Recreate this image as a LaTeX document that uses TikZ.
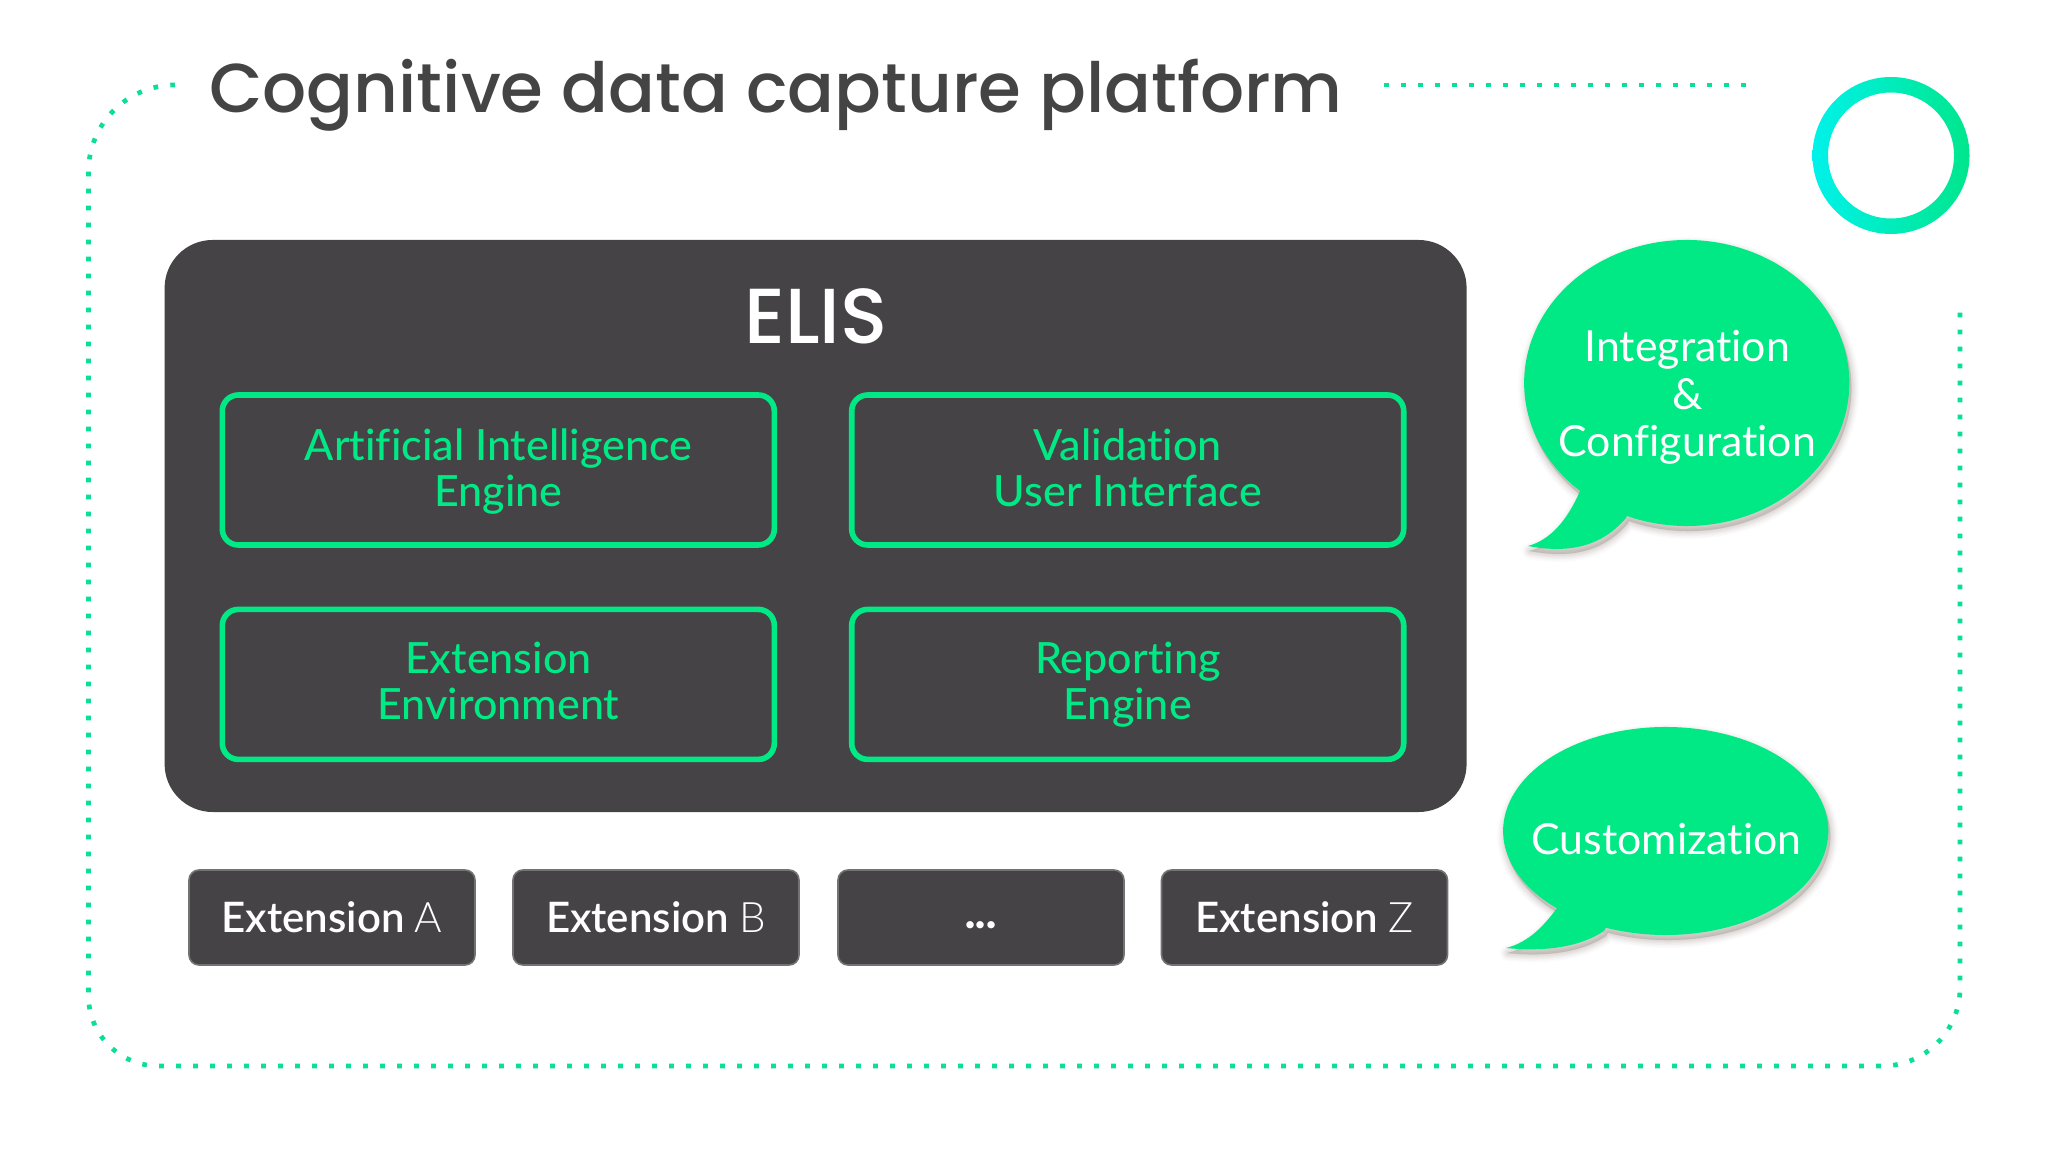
\documentclass[tikz,border=0pt]{standalone}
\usepackage{fontspec}
\setmainfont{Lato Medium}[Ligatures=NoCommon]
\newfontfamily\titlefont{Poppins Medium}
\newfontfamily\thinfont{Lato Light}
\newfontfamily\semifont{Lato Semibold}[Ligatures=NoCommon]
\newfontfamily\blackfont{Lato Black}
\newfontfamily\regfont{Lato}[Ligatures=NoCommon]
\definecolor{mint}{HTML}{00E985}
\definecolor{dots}{HTML}{0ADF95}
\definecolor{slate}{HTML}{454346}
\definecolor{inkc}{HTML}{444444}
\definecolor{shadowc}{HTML}{6A5A50}
\definecolor{ringa}{HTML}{00F2EA}
\definecolor{ringb}{HTML}{00E6B4}
\definecolor{ringc}{HTML}{00E68C}
\newcommand{\topstrut}[1]{\rule{0pt}{#1pt}}
\tikzset{
  x=0.5pt,y=0.5pt,
  dotline/.style={draw=dots,line width=2.35pt,dash pattern=on 2.35pt off 6.15pt},
  panel/.style={draw=none,fill=slate,rounded corners=24pt,minimum width=651pt,minimum height=286pt},
  engine/.style={draw=mint,line width=2.8pt,rounded corners=8pt,minimum width=276pt,minimum height=75pt,
    align=center,text=mint,font=\fontsize{21.5}{23.1}\selectfont,inner sep=0pt},
  ext/.style={draw=black!55!white,fill=slate,line width=0.8pt,rounded corners=5pt,minimum width=143pt,minimum height=47.5pt,
    text=white,font=\semifont\fontsize{21}{24}\selectfont,inner sep=0pt},
  say/.style={align=center,text=white,font=\regfont\fontsize{21.4}{23.6}\selectfont,inner sep=0pt},
}
\newcommand{\bubble}[9]{%
  \foreach \wd/\op in {16/.02,13/.03,10/.04,7/.05,4/.05,1/.06}{
    \path[shift={(2,-5)},fill=shadowc,draw=shadowc,opacity=\op,line width=\wd*0.5pt,line join=round]
      (#1,#2) ++(#5:#3 and #4) arc[start angle=#5,end angle=#6,x radius=#3,y radius=#4] #7 #8 #9 -- cycle;
  }
  \path[fill=mint]
    (#1,#2) ++(#5:#3 and #4) arc[start angle=#5,end angle=#6,x radius=#3,y radius=#4] #7 #8 #9 -- cycle;
}
\begin{document}
\begin{tikzpicture}
\useasboundingbox (0,0) rectangle (2048,1152);
\fill[white] (0,0) rectangle (2048,1152);

% dotted frame
\coordinate (fa) at (175,1067);
\coordinate (fc) at (88.5,156);
\coordinate (fd) at (1960,841);
\coordinate (fe) at (1384,1067);
\coordinate (ff) at (1748,1067);
\draw[dotline] (fa) arc[start angle=90,end angle=180,radius=86.5] -- (fc)
   arc[start angle=180,end angle=270,radius=70] -- (1882,86) arc[start angle=-90,end angle=0,radius=78] -- (fd);
\draw[dotline] (fe) -- (ff);

% title
\node[inner sep=0pt,text=inkc,font=\titlefont\fontsize{34.6}{38}\selectfont] (title) at (776,1057) {Cognitive data capture platform};

% ring
\path[left color=ringa,middle color=ringb,right color=ringc,even odd rule] (1891,996.5) circle[radius=78.5] (1891,996.5) circle[radius=63];

% main panel
\node[panel] (elis) at (815.6,626) {};
\node[inner sep=0pt,text=white,font=\titlefont\fontsize{39}{42}\selectfont] (elistitle) at (816,836) {ELIS};
\node[engine] (ai) at (498.3,682) {\topstrut{20.5}Artificial Intelligence\\\strut Engine};
\node[engine] (ui) at (1127.7,682) {\topstrut{20.5}Validation\\\strut User Interface};
\node[engine] (env) at (498.3,467.6) {\topstrut{19.2}Extension\\\strut Environment};
\node[engine] (rep) at (1127.7,467.6) {\topstrut{19.2}Reporting\\\strut Engine};

% extensions
\node[ext] (xa) at (332,234.5) {\raisebox{0.5pt}{Extension {\thinfont A}}};
\node[ext] (xb) at (656,234.5) {\raisebox{0.5pt}{Extension {\thinfont B}}};
\node[ext] (xd) at (981,234.5) {\strut\blackfont\raisebox{-0.5pt}{...}};
\node[ext] (xz) at (1304.5,234.5) {\raisebox{0.5pt}{Extension {\thinfont Z}}};

% bubbles
\bubble{1686.7}{769}{162.6}{143}{-111.6}{229}{.. controls (1567,631) and (1550,612) .. (1528,606)}{.. controls (1570,598) and (1602,606) ..}{(1626,634)}
\bubble{1665.7}{321}{162.6}{104}{-111.6}{228}{.. controls (1545,228) and (1530,210) .. (1506,204)}{.. controls (1545,200) and (1580,205) ..}{(1604,221)}
\node[say] (integ) at (1687.3,752.4) {\strut Integration\\\strut\&\\\strut Configuration};
\node[say] (cust) at (1666.5,307) {\strut Customization};
\end{tikzpicture}
\end{document}
